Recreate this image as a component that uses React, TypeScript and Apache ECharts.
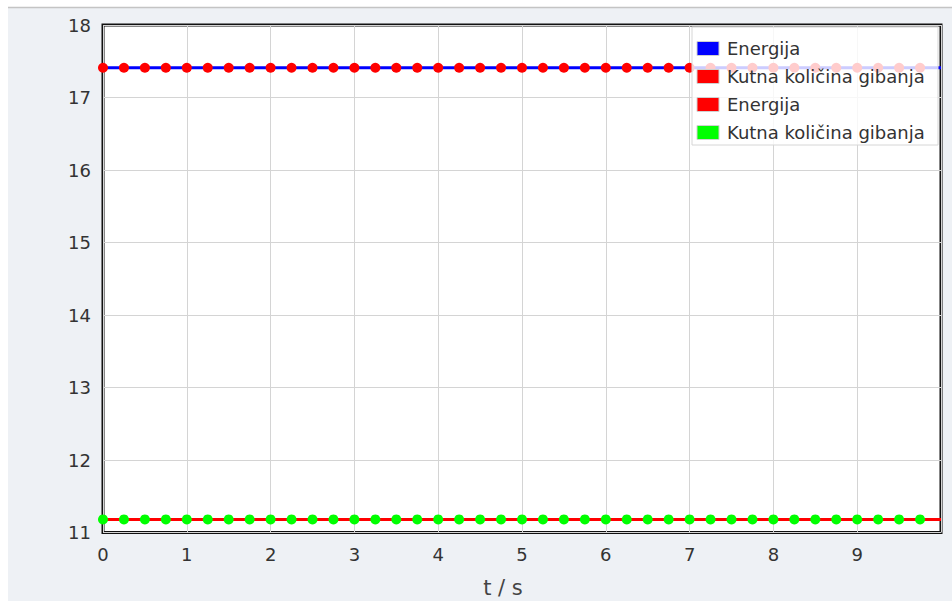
import React, { useEffect, useRef } from "react";
import * as echarts from "echarts";

// Time samples (s); the last entry closes the energy lines at the axis end.
const sampleTimes = [
  0, 0.25, 0.5, 0.75, 1, 1.25, 1.5, 1.75, 2, 2.25, 2.5, 2.75, 3, 3.25, 3.5, 3.75,
  4, 4.25, 4.5, 4.75, 5, 5.25, 5.5, 5.75, 6, 6.25, 6.5, 6.75, 7, 7.25, 7.5, 7.75,
  8, 8.25, 8.5, 8.75, 9, 9.25, 9.5, 9.75, 10,
];

// Upper pair of curves
const energyUpper = [
  17.41, 17.41, 17.41, 17.41, 17.41, 17.41, 17.41, 17.41, 17.41, 17.41, 17.41,
  17.41, 17.41, 17.41, 17.41, 17.41, 17.41, 17.41, 17.41, 17.41, 17.41, 17.41,
  17.41, 17.41, 17.41, 17.41, 17.41, 17.41, 17.41, 17.41, 17.41, 17.41, 17.41,
  17.41, 17.41, 17.41, 17.41, 17.41, 17.41, 17.41, 17.41,
];
const momentumUpper = [
  17.41, 17.41, 17.41, 17.41, 17.41, 17.41, 17.41, 17.41, 17.41, 17.41, 17.41,
  17.41, 17.41, 17.41, 17.41, 17.41, 17.41, 17.41, 17.41, 17.41, 17.41, 17.41,
  17.41, 17.41, 17.41, 17.41, 17.41, 17.41, 17.41, 17.41, 17.41, 17.41, 17.41,
  17.41, 17.41, 17.41, 17.41, 17.41, 17.41, 17.41,
];

// Lower pair of curves
const energyLower = [
  11.18, 11.18, 11.18, 11.18, 11.18, 11.18, 11.18, 11.18, 11.18, 11.18, 11.18,
  11.18, 11.18, 11.18, 11.18, 11.18, 11.18, 11.18, 11.18, 11.18, 11.18, 11.18,
  11.18, 11.18, 11.18, 11.18, 11.18, 11.18, 11.18, 11.18, 11.18, 11.18, 11.18,
  11.18, 11.18, 11.18, 11.18, 11.18, 11.18, 11.18, 11.18,
];
const momentumLower = [
  11.18, 11.18, 11.18, 11.18, 11.18, 11.18, 11.18, 11.18, 11.18, 11.18, 11.18,
  11.18, 11.18, 11.18, 11.18, 11.18, 11.18, 11.18, 11.18, 11.18, 11.18, 11.18,
  11.18, 11.18, 11.18, 11.18, 11.18, 11.18, 11.18, 11.18, 11.18, 11.18, 11.18,
  11.18, 11.18, 11.18, 11.18, 11.18, 11.18, 11.18,
];

const seriesNames = ["Energija", "Kutna količina gibanja", "Energija", "Kutna količina gibanja"];
const seriesColors = ["#0000ff", "#ff0000", "#ff0000", "#00ff00"];
const xAxisTitle = "t / s";

const FONT = "DejaVu Sans, Verdana, sans-serif";

const pairs = (vals: number[]) => vals.map((v, i) => [sampleTimes[i], v]);

export default function App() {
  const ref = useRef<HTMLDivElement>(null);

  useEffect(() => {
    if (!ref.current) return;
    const chart = echarts.init(ref.current, undefined, { renderer: "svg" });

    const lineSeries = (name: string, color: string, vals: number[], z: number) => ({
      type: "line",
      name,
      data: pairs(vals),
      showSymbol: false,
      symbol: "none",
      lineStyle: { color, width: 3 },
      itemStyle: { color },
      z,
    });
    const dotSeries = (name: string, color: string, vals: number[], z: number) => ({
      type: "scatter",
      name,
      data: pairs(vals),
      symbol: "circle",
      symbolSize: 10,
      itemStyle: { color, opacity: 1 },
      z,
    });

    // Legend box drawn by hand: two entries share a name, which the built-in legend would merge.
    const legendX = 692;
    const legendY = 27;
    const rowGap = 28;
    const TOP = 100;
    const legendItems: any[] = [
      {
        type: "rect",
        z: TOP,
        shape: { x: legendX, y: legendY, width: 246, height: 118 },
        style: { fill: "rgba(255,255,255,0.8)", stroke: "#d6d6d6", lineWidth: 1 },
      },
    ];
    seriesNames.forEach((name, i) => {
      const cy = legendY + 21.5 + i * rowGap;
      legendItems.push({
        type: "rect",
        z: TOP + 1,
        shape: { x: legendX + 5, y: cy - 7, width: 22, height: 14 },
        style: { fill: seriesColors[i], stroke: "#d0d0d0", lineWidth: 1 },
      });
      legendItems.push({
        type: "text",
        z: TOP + 1,
        x: legendX + 35,
        y: cy,
        style: {
          text: name,
          fill: "#333333",
          font: `18px ${FONT}`,
          verticalAlign: "middle",
          align: "left",
        },
      });
    });

    chart.setOption({
      animation: false,
      backgroundColor: "#eef1f5",
      grid: {
        left: 103,
        right: 11,
        top: 25,
        bottom: 68.5,
        outerBoundsMode: "none",
        containLabel: false,
        show: true,
        backgroundColor: "#ffffff",
        borderColor: "#111111",
        borderWidth: 3,
      },
      xAxis: {
        type: "value",
        min: 0,
        max: 10,
        interval: 1,
        name: xAxisTitle,
        nameLocation: "middle",
        nameGap: 44,
        nameTextStyle: {
          color: "#444444",
          fontSize: 21,
          fontFamily: FONT,
          lineHeight: 22,
          padding: [0, 38, 0, 0],
        },
        axisLine: { show: false },
        axisTick: { show: false },
        axisLabel: {
          color: "#333333",
          fontSize: 18,
          fontFamily: FONT,
          margin: 13,
          showMaxLabel: false,
        },
        splitLine: { show: true, lineStyle: { color: "#d4d4d4", width: 1 } },
      },
      yAxis: {
        type: "value",
        min: 11,
        max: 18,
        interval: 1,
        axisLine: { show: false },
        axisTick: { show: false },
        axisLabel: { color: "#333333", fontSize: 18, fontFamily: FONT, margin: 12 },
        splitLine: { show: true, lineStyle: { color: "#d4d4d4", width: 1 } },
      },
      series: [
        lineSeries(seriesNames[0], seriesColors[0], energyUpper, 2),
        dotSeries(seriesNames[1], seriesColors[1], momentumUpper, 3),
        lineSeries(seriesNames[2], seriesColors[2], energyLower, 2),
        dotSeries(seriesNames[3], seriesColors[3], momentumLower, 3),
      ],
      graphic: [
        { type: "rect", z: TOP, shape: { x: 0, y: 0, width: 952, height: 7 }, style: { fill: "#ffffff" } },
        { type: "rect", z: TOP, shape: { x: 0, y: 0, width: 8, height: 601 }, style: { fill: "#ffffff" } },
        {
          type: "line",
          z: TOP,
          shape: { x1: 8, y1: 7.5, x2: 952, y2: 7.5 },
          style: { stroke: "#c4c4c4", lineWidth: 1.5 },
        },
        ...legendItems,
      ],
    });

    return () => chart.dispose();
  }, []);

  return (
    <div
      ref={ref}
      style={{ position: "fixed", left: 0, top: 0, width: 952, height: 601 }}
    />
  );
}
